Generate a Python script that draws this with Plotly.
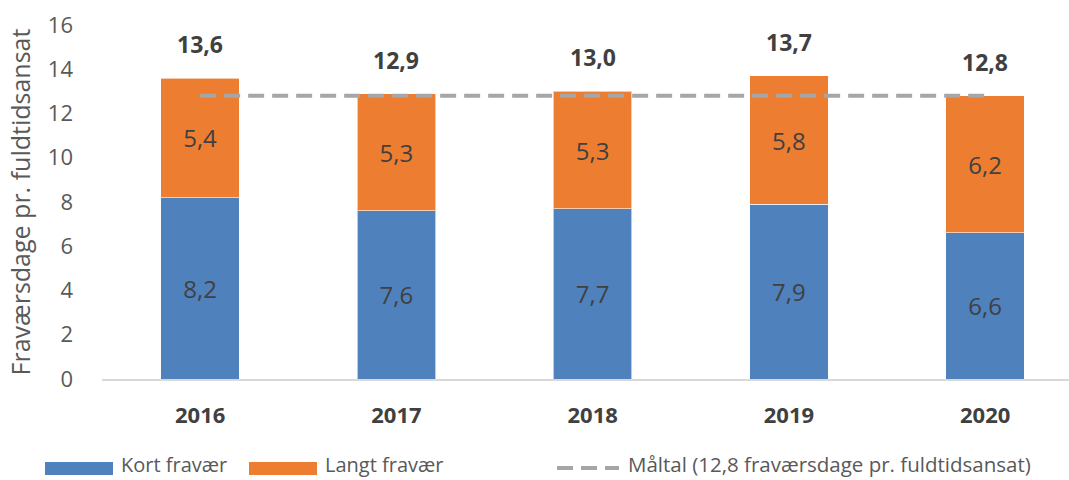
import plotly.graph_objects as go

years = ["2016", "2017", "2018", "2019", "2020"]
kort = [8.2, 7.6, 7.7, 7.9, 6.6]
langt = [5.4, 5.3, 5.3, 5.8, 6.2]
totals = [13.6, 12.9, 13.0, 13.7, 12.8]
target = [12.8, 12.8, 12.8, 12.8, 12.8]

def fmt(v):
    return f"{v:.1f}".replace(".", ",")

W, H = 1069, 480
L, R, T, B = 102, 0, 25, 101
PW, PH = W - L - R, H - T - B

def px(x):
    return (x - L) / PW

def py(y):
    return (H - B - y) / PH

FONT = "Open Sans"
BLUE = "#4F81BD"
ORANGE = "#ED7D31"
GRAY = "#A6A6A6"

fig = go.Figure()
fig.add_trace(go.Bar(
    x=years, y=kort, name="Kort fravær", marker_color=BLUE,
    marker_line=dict(color="rgba(255,255,255,0.6)", width=1),
    text=[fmt(v) for v in kort], textposition="inside", insidetextanchor="middle",
    textfont=dict(family=FONT, size=24, color="#404040"), showlegend=False,
))
fig.add_trace(go.Bar(
    x=years, y=langt, name="Langt fravær", marker_color=ORANGE,
    marker_line=dict(color="rgba(255,255,255,0.6)", width=1),
    text=[fmt(v) for v in langt], textposition="inside", insidetextanchor="middle",
    textfont=dict(family=FONT, size=24, color="#404040"), showlegend=False,
))
fig.add_trace(go.Scatter(
    x=years, y=target, mode="lines", name="Måltal (12,8 fraværsdage pr. fuldtidsansat)",
    line=dict(color=GRAY, width=4, dash="16px,8px"), showlegend=False,
))

for i, t in enumerate(totals):
    fig.add_annotation(x=i, y=t, xref="x", yref="y", text=f"<b>{fmt(t)}</b>",
                       showarrow=False, yshift=34, yanchor="middle",
                       font=dict(family=FONT, size=23, color="#404040"))

# manual legend
leg_bottom = 480
key_y = 468
fig.add_shape(type="rect", xref="paper", yref="paper",
              x0=px(45), x1=px(113), y0=py(key_y + 7), y1=py(key_y - 6),
              fillcolor=BLUE, line_width=0)
fig.add_annotation(xref="paper", yref="paper", x=px(119), y=py(leg_bottom),
                   xanchor="left", yanchor="bottom", showarrow=False,
                   text="Kort fravær", font=dict(family=FONT, size=20, color="#595959"))
fig.add_shape(type="rect", xref="paper", yref="paper",
              x0=px(249), x1=px(317), y0=py(key_y + 7), y1=py(key_y - 6),
              fillcolor=ORANGE, line_width=0)
fig.add_annotation(xref="paper", yref="paper", x=px(323), y=py(leg_bottom),
                   xanchor="left", yanchor="bottom", showarrow=False,
                   text="Langt fravær", font=dict(family=FONT, size=20, color="#595959"))
fig.add_shape(type="line", xref="paper", yref="paper",
              x0=px(557), x1=px(619), y0=py(key_y), y1=py(key_y),
              line=dict(color=GRAY, width=4, dash="16px,8px"))
fig.add_annotation(xref="paper", yref="paper", x=px(626), y=py(leg_bottom),
                   xanchor="left", yanchor="bottom", showarrow=False,
                   text="Måltal (12,8 fraværsdage pr. fuldtidsansat)",
                   font=dict(family=FONT, size=20.5, color="#595959"))

fig.update_layout(
    width=W, height=H, barmode="stack", bargap=0.6,
    margin=dict(l=L, r=R, t=T, b=B, autoexpand=False),
    plot_bgcolor="white", paper_bgcolor="white",
    font=dict(family=FONT, color="#595959"),
)
fig.update_xaxes(type="category", range=[-0.5, -0.5 + PW / 196.25], showgrid=False,
                 showline=True, linecolor="#D9D9D9", linewidth=1.5,
                 ticks="", ticklabelstandoff=16,
                 tickfont=dict(family=FONT, size=22, color="#404040"),
                 tickprefix="<b>", ticksuffix="</b>")
fig.update_yaxes(range=[0, 16], dtick=2, showgrid=False, zeroline=False,
                 showline=False, ticks="", ticklabelstandoff=28,
                 tickfont=dict(family=FONT, size=22, color="#595959"),
                 title=dict(text="Fraværsdage pr. fuldtidsansat", standoff=10,
                            font=dict(family=FONT, size=25, color="#595959")))

fig.write_html("out.html", config={"displayModeBar": False},
               post_script="document.body.style.margin='0';")
